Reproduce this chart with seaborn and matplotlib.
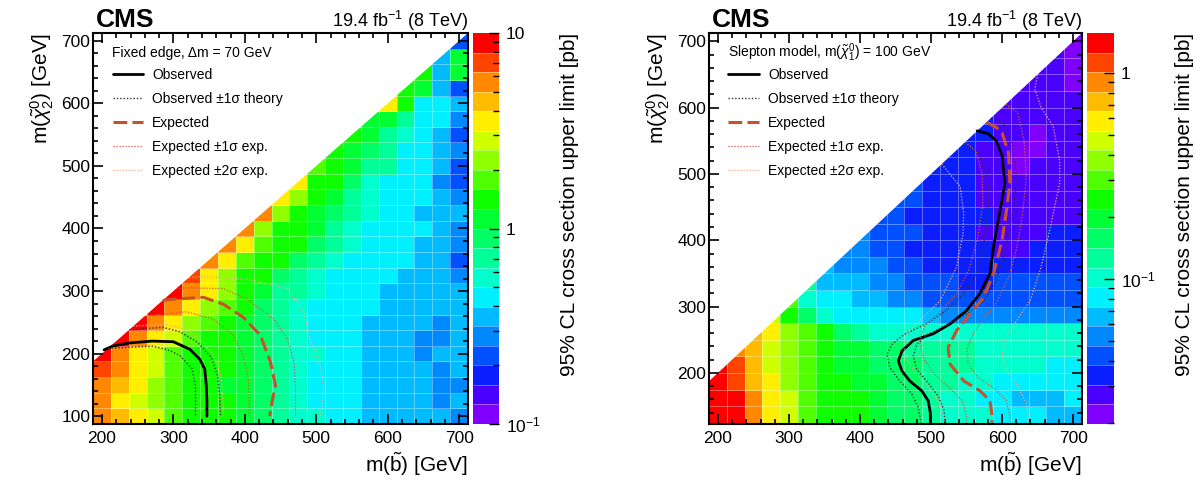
import numpy as np
import matplotlib
matplotlib.use("Agg")
import matplotlib.pyplot as plt
import seaborn as sns
from matplotlib.colors import ListedColormap, LogNorm
from matplotlib.ticker import AutoMinorLocator, LogLocator, NullFormatter

sns.set_style("ticks")
plt.rcParams["font.family"] = ["Liberation Sans", "DejaVu Sans"]
plt.rcParams["mathtext.fontset"] = "custom"
plt.rcParams["mathtext.rm"] = "Liberation Sans"
plt.rcParams["mathtext.it"] = "Liberation Sans:italic"
plt.rcParams["mathtext.bf"] = "Liberation Sans:bold"
plt.rcParams["text.color"] = "black"
plt.rcParams["axes.labelcolor"] = "black"
plt.rcParams["axes.edgecolor"] = "black"
plt.rcParams["xtick.color"] = "black"
plt.rcParams["ytick.color"] = "black"
plt.rcParams["axes.axisbelow"] = False

# ---- scan points ----
m_sbottom = [200, 225, 250, 275, 300, 325, 350, 375, 400, 425, 450,
             475, 500, 525, 550, 575, 600, 625, 650, 675, 700]
m_chi2_fixed = [100, 125, 150, 175, 200, 225, 250, 275, 300, 325, 350, 375, 400,
                425, 450, 475, 500, 525, 550, 575, 600, 625, 650, 675, 700]
m_chi2_slepton = [137.5, 162.5, 187.5, 212.5, 237.5, 262.5, 287.5, 312.5, 337.5,
                  362.5, 387.5, 412.5, 437.5, 462.5, 487.5, 512.5, 537.5, 562.5,
                  587.5, 612.5, 637.5, 662.5, 687.5, 712.5]

# ---- 95% CL upper limits [pb], one row per m(chi2), each row ends at m(b)=700 ----
fixed_edge_limit = [
    [5.6, 4.5, 3.5, 2.8, 1.8, 1.4, 1.4, 1.4, 1.1, 0.89, 0.71, 0.56, 0.56, 0.45, 0.45, 0.35, 0.35, 0.35, 0.35, 0.35, 0.28],
    [5.6, 3.5, 2.8, 2.2, 1.8, 1.4, 1.4, 1.4, 1.1, 0.89, 0.71, 0.56, 0.45, 0.45, 0.45, 0.35, 0.35, 0.35, 0.35, 0.28, 0.35],
    [5.6, 4.5, 3.5, 2.2, 1.8, 1.4, 1.4, 1.1, 1.1, 0.89, 0.71, 0.56, 0.45, 0.45, 0.45, 0.35, 0.35, 0.35, 0.35, 0.28, 0.28],
    [7.1, 5.6, 3.5, 2.8, 1.8, 1.4, 1.4, 1.4, 1.1, 0.89, 0.71, 0.56, 0.45, 0.45, 0.45, 0.35, 0.35, 0.35, 0.35, 0.28, 0.35],
    [8.9, 5.6, 3.5, 2.8, 1.8, 1.4, 1.4, 1.4, 1.1, 0.89, 0.71, 0.56, 0.56, 0.45, 0.45, 0.35, 0.35, 0.35, 0.28, 0.35, 0.35],
    [8.9, 5.6, 3.5, 2.8, 1.8, 1.4, 1.4, 1.1, 0.89, 0.71, 0.56, 0.45, 0.45, 0.45, 0.35, 0.35, 0.35, 0.28, 0.28, 0.35],
    [8.9, 5.6, 3.5, 2.2, 1.8, 1.4, 1.1, 0.89, 0.71, 0.56, 0.45, 0.45, 0.45, 0.35, 0.35, 0.35, 0.35, 0.28, 0.35],
    [8.9, 5.6, 3.5, 2.2, 1.8, 1.4, 0.89, 0.71, 0.56, 0.45, 0.45, 0.45, 0.45, 0.35, 0.35, 0.35, 0.35, 0.35],
    [8.9, 5.6, 3.5, 2.2, 1.4, 1.1, 0.71, 0.71, 0.56, 0.45, 0.45, 0.45, 0.35, 0.35, 0.35, 0.35, 0.35],
    [7.1, 3.5, 2.2, 1.4, 1.4, 0.89, 0.71, 0.56, 0.45, 0.45, 0.45, 0.45, 0.35, 0.35, 0.35, 0.28],
    [5.6, 3.5, 1.8, 1.4, 1.4, 0.89, 0.71, 0.56, 0.45, 0.45, 0.45, 0.45, 0.35, 0.35, 0.22],
    [5.6, 3.5, 1.8, 1.4, 1.4, 0.89, 0.71, 0.56, 0.45, 0.45, 0.45, 0.35, 0.35, 0.28],
    [5.6, 2.2, 1.4, 1.4, 1.1, 0.71, 0.56, 0.45, 0.45, 0.45, 0.45, 0.35, 0.28],
    [5.6, 2.2, 1.4, 1.1, 0.89, 0.71, 0.56, 0.45, 0.45, 0.35, 0.35, 0.35],
    [3.5, 2.2, 1.4, 1.1, 0.71, 0.56, 0.45, 0.45, 0.45, 0.35, 0.28],
    [3.5, 1.4, 1.4, 0.89, 0.56, 0.45, 0.45, 0.45, 0.28, 0.22],
    [1.8, 1.4, 1.1, 0.71, 0.71, 0.45, 0.45, 0.35, 0.22],
    [1.4, 1.1, 0.89, 0.71, 0.45, 0.45, 0.35, 0.28],
    [1.4, 1.1, 0.71, 0.56, 0.45, 0.35, 0.22],
    [1.1, 1.1, 0.71, 0.45, 0.45, 0.28],
    [3.5, 1.4, 0.45, 0.45, 0.35],
    [1.4, 1.1, 0.35, 0.22],
    [1.4, 0.35, 1.1],
    [0.35, 1.1],
    [0.22],
]

slepton_limit = [
    [1.4, 1.4, 0.90, 0.58, 0.47, 0.30, 0.24, 0.24, 0.24, 0.20, 0.16, 0.16, 0.13, 0.10, 0.10, 0.10, 0.082, 0.082, 0.082, 0.066, 0.066],
    [1.4, 1.4, 0.90, 0.58, 0.47, 0.30, 0.24, 0.24, 0.24, 0.20, 0.16, 0.16, 0.13, 0.10, 0.10, 0.082, 0.082, 0.066, 0.066, 0.066, 0.082],
    [1.4, 1.1, 0.73, 0.58, 0.38, 0.30, 0.24, 0.24, 0.20, 0.20, 0.16, 0.16, 0.13, 0.13, 0.10, 0.10, 0.082, 0.082, 0.082, 0.082, 0.082],
    [1.4, 1.1, 0.73, 0.47, 0.38, 0.30, 0.24, 0.20, 0.20, 0.16, 0.16, 0.16, 0.13, 0.13, 0.13, 0.10, 0.10, 0.10, 0.10, 0.082, 0.082],
    [0.90, 0.73, 0.47, 0.38, 0.30, 0.24, 0.20, 0.20, 0.16, 0.16, 0.13, 0.13, 0.13, 0.13, 0.10, 0.10, 0.10, 0.10, 0.10, 0.10],
    [0.73, 0.58, 0.38, 0.30, 0.24, 0.16, 0.13, 0.10, 0.10, 0.10, 0.10, 0.10, 0.10, 0.10, 0.10, 0.10, 0.10, 0.10, 0.10],
    [0.47, 0.24, 0.16, 0.10, 0.082, 0.082, 0.082, 0.082, 0.082, 0.066, 0.053, 0.053, 0.053, 0.053, 0.053, 0.053, 0.053, 0.053],
    [0.30, 0.10, 0.082, 0.082, 0.066, 0.066, 0.053, 0.053, 0.042, 0.042, 0.042, 0.042, 0.042, 0.042, 0.042, 0.042, 0.042],
    [0.13, 0.066, 0.066, 0.066, 0.053, 0.053, 0.042, 0.042, 0.042, 0.034, 0.034, 0.042, 0.042, 0.042, 0.042, 0.042],
    [0.066, 0.053, 0.053, 0.053, 0.042, 0.042, 0.034, 0.034, 0.034, 0.034, 0.034, 0.034, 0.034, 0.034, 0.034],
    [0.053, 0.053, 0.042, 0.042, 0.034, 0.034, 0.034, 0.034, 0.034, 0.027, 0.027, 0.034, 0.034, 0.034],
    [0.053, 0.042, 0.042, 0.042, 0.034, 0.034, 0.034, 0.027, 0.027, 0.027, 0.027, 0.034, 0.034],
    [0.042, 0.042, 0.034, 0.034, 0.034, 0.034, 0.034, 0.027, 0.027, 0.027, 0.027, 0.027],
    [0.042, 0.042, 0.034, 0.034, 0.034, 0.027, 0.027, 0.027, 0.027, 0.027, 0.027],
    [0.042, 0.034, 0.034, 0.034, 0.027, 0.027, 0.027, 0.027, 0.027, 0.027],
    [0.034, 0.034, 0.034, 0.027, 0.027, 0.022, 0.027, 0.027, 0.027],
    [0.034, 0.034, 0.027, 0.027, 0.022, 0.022, 0.027, 0.027],
    [0.034, 0.034, 0.027, 0.027, 0.022, 0.027, 0.027],
    [0.034, 0.027, 0.027, 0.027, 0.027, 0.027],
    [0.027, 0.027, 0.027, 0.027, 0.027],
    [0.027, 0.027, 0.027, 0.022],
    [0.027, 0.027, 0.022],
    [0.027, 0.022],
    [0.022],
]

# ---- exclusion contours (m(b), m(chi2)) ----
fixed_observed = [(203, 206), (215, 212), (238, 217), (270, 220), (300, 219), (323, 207),
                  (337, 191), (344, 175), (346, 150), (347, 125), (347, 100)]
fixed_observed_m1 = [(209, 209), (220, 209), (271, 212), (295, 205), (309, 197), (326, 176),
                     (331, 149), (331, 125), (331, 100)]
fixed_observed_p1 = [(238, 238), (285, 242), (309, 235), (334, 218), (353, 194), (362, 165),
                     (365, 130), (366, 100)]
fixed_expected = [(285, 285), (300, 287), (342, 290), (370, 279), (398, 258), (422, 229),
                  (436, 186), (443, 149), (438, 122), (435, 100)]
fixed_expected_m1 = [(258, 258), (275, 262), (318, 267), (356, 255), (384, 229), (398, 197),
                     (405, 160), (406, 130), (406, 100)]
fixed_expected_p1 = [(304, 304), (320, 305), (370, 304), (403, 287), (441, 255), (460, 223),
                     (469, 186), (471, 149), (471, 100)]
fixed_expected_m2 = [(244, 244), (287, 247), (313, 240), (338, 222), (357, 197), (366, 166),
                     (369, 130), (370, 100)]
fixed_expected_p2 = [(322, 322), (342, 323), (403, 319), (460, 304), (483, 266), (492, 223),
                     (506, 180), (511, 143), (506, 100)]

slepton_observed = [(565, 565), (580, 561), (592, 550), (600, 527), (604, 487), (600, 461),
                    (593, 421), (588, 390), (583, 350), (569, 320), (550, 294), (527, 274),
                    (503, 259), (475, 249), (459, 233), (454, 218), (459, 203), (470, 188),
                    (487, 173), (496, 158), (499, 140), (499, 125)]
slepton_observed_m1 = [(545, 545), (565, 535), (578, 505), (582, 465), (578, 420), (572, 380),
                       (562, 345), (545, 318), (522, 295), (495, 275), (462, 258), (445, 243),
                       (438, 228), (442, 208), (456, 188), (473, 168), (482, 148), (486, 125)]
slepton_observed_p1 = [(585, 585), (603, 575), (614, 545), (620, 500), (617, 455), (610, 415),
                       (602, 375), (592, 340), (575, 310), (552, 290), (522, 272), (495, 258),
                       (480, 243), (475, 225), (480, 205), (496, 185), (510, 165), (518, 145),
                       (520, 125)]
slepton_expected = [(578, 578), (592, 570), (600, 562), (609, 532), (611, 487), (607, 451),
                    (600, 400), (588, 350), (574, 314), (555, 289), (536, 264), (524, 238),
                    (527, 213), (546, 188), (569, 173), (583, 158), (586, 135), (586, 125)]
slepton_expected_m1 = [(548, 548), (563, 535), (572, 500), (573, 455), (566, 405), (553, 355),
                       (535, 318), (512, 292), (492, 272), (484, 250), (488, 225), (503, 200),
                       (525, 178), (544, 158), (550, 135), (550, 125)]
slepton_expected_p1 = [(605, 605), (622, 592), (631, 550), (634, 495), (629, 440), (621, 390),
                       (609, 343), (592, 306), (574, 282), (560, 260), (551, 238), (552, 214),
                       (566, 193), (590, 176), (606, 158), (611, 135), (611, 125)]
slepton_expected_m2 = [(515, 515), (541, 481), (546, 440), (545, 410), (536, 360), (513, 309),
                       (485, 280), (468, 262), (462, 245), (465, 222), (478, 200), (497, 178),
                       (512, 155), (518, 135), (520, 125)]
slepton_expected_p2 = [(650, 650), (646, 628), (655, 600), (672, 572), (681, 520), (681, 486),
                       (668, 420), (655, 360), (640, 310), (620, 278), (605, 252), (600, 228),
                       (606, 205), (622, 180), (634, 155), (637, 135), (637, 125)]

legend_labels = ["Observed", "Observed \u00b11\u03c3 theory", "Expected",
                 "Expected \u00b11\u03c3 exp.", "Expected \u00b12\u03c3 exp."]

# ROOT-like rainbow palette, 20 bands from violet to red
root_palette = ["#8000ff", "#4a00ff", "#0a1eff", "#0050ff", "#0088ff", "#00bbff",
                "#00f0ff", "#00ffcc", "#00ff99", "#00ff66", "#00ff33", "#10ff00",
                "#50ff00", "#90ff00", "#d0ff00", "#ffee00", "#ffbb00", "#ff8800",
                "#ff4400", "#ff0000"]
root_cmap = ListedColormap(root_palette)

W, H = 1197, 498
fig = plt.figure(figsize=(W / 100, H / 100), dpi=100)


def frac(x0, x1):
    return [x0 / W, 74 / H, (x1 - x0) / W, 391 / H]


def draw_panel(ax, cax, chi2_rows, limits, zrange, ylim, yticks, curves, header,
               cbar_ticks, cbar_labels):
    x_edges = np.append(np.array(m_sbottom) - 12.5, m_sbottom[-1] + 12.5)
    y_edges = np.append(np.array(chi2_rows) - 12.5, chi2_rows[-1] + 12.5)
    grid = np.full((len(chi2_rows), len(m_sbottom)), np.nan)
    for i, row in enumerate(limits):
        grid[i, len(m_sbottom) - len(row):] = row
    mesh = ax.pcolormesh(x_edges, y_edges, np.ma.masked_invalid(grid), cmap=root_cmap,
                         norm=LogNorm(*zrange), edgecolors=(1, 1, 1, 0.35),
                         linewidth=0.5, zorder=1)
    # kinematically forbidden region
    ax.fill([187.5, 712.5, 187.5], [187.5, 712.5, 712.5], color="white", lw=0, zorder=1.5)

    styles = [
        dict(color="black", linewidth=2.0, linestyle="-"),
        dict(color="#333333", linewidth=1.0, linestyle=(0, (1, 1.4))),
        dict(color="#c9512a", linewidth=2.2, linestyle=(0, (4.5, 1.7))),
        dict(color="#d8583a", linewidth=0.9, linestyle=(0, (1, 1.4))),
        dict(color="#f2a88c", linewidth=0.9, linestyle=(0, (1, 1.4))),
    ]
    handles = []
    for k, group in enumerate(curves):
        for pts in group:
            sns.lineplot(x=[p[0] for p in pts], y=[p[1] for p in pts], ax=ax, sort=False,
                         estimator=None, legend=False, zorder=3, **styles[k])
        handles.append(ax.lines[-1])

    ax.set_axisbelow(False)
    ax.set_xlim(187.5, 712.5)
    ax.set_ylim(*ylim)
    ax.set_xticks([200, 300, 400, 500, 600, 700])
    ax.set_yticks(yticks)
    ax.xaxis.set_minor_locator(AutoMinorLocator(5))
    ax.yaxis.set_minor_locator(AutoMinorLocator(5))
    ax.tick_params(which="both", direction="in", top=True, right=True, width=1.2,
                   labelsize=12.5)
    ax.tick_params(which="major", length=7)
    ax.tick_params(which="minor", length=3.5)
    ax.tick_params(axis="x", pad=5)
    ax.tick_params(axis="y", pad=2)
    for s in ax.spines.values():
        s.set_linewidth(1.5)
        s.set_zorder(4)

    ax.set_xlabel(r"m($\tilde{\mathrm{b}}$) [GeV]", loc="right", fontsize=15, labelpad=3)
    ax.set_ylabel(r"m($\tilde{\chi}^{0}_{2}$) [GeV]", loc="top", fontsize=15, labelpad=4)

    ax.text(0.008, 1.015, "CMS", transform=ax.transAxes, fontsize=19,
            fontweight="bold", ha="left", va="baseline")
    ax.text(1.0, 1.015, r"19.4 fb$^{-1}$ (8 TeV)", transform=ax.transAxes,
            fontsize=13, ha="right", va="baseline")
    ax.text(0.05, 0.949, header, transform=ax.transAxes, fontsize=10, ha="left",
            va="center", zorder=6)
    ax.legend(handles, legend_labels, loc="upper left", bbox_to_anchor=(0.052, 0.91),
              frameon=False, fontsize=10, handlelength=2.2, handletextpad=0.65,
              labelspacing=0.72, borderpad=0, borderaxespad=0)

    cb = fig.colorbar(mesh, cax=cax, drawedges=True)
    cb.outline.set_visible(False)
    cb.dividers.set_color((1, 1, 1, 0.5))
    cb.dividers.set_linewidth(0.5)
    cax.set_axisbelow(False)
    cb.set_ticks(cbar_ticks)
    cb.set_ticklabels(cbar_labels)
    cax.yaxis.set_minor_locator(LogLocator(subs=np.arange(2, 10)))
    cax.yaxis.set_minor_formatter(NullFormatter())
    cax.tick_params(which="both", direction="in", right=True, left=False,
                    labelsize=12.5, width=1.0, pad=5, color="black")
    cax.tick_params(which="major", length=7)
    cax.tick_params(which="minor", length=4)
    cb.set_label("95% CL cross section upper limit [pb]", fontsize=15, loc="top",
                 labelpad=14)


ax_l = fig.add_axes(frac(93, 468))
cax_l = fig.add_axes(frac(473, 499))
ax_r = fig.add_axes(frac(709, 1082))
cax_r = fig.add_axes(frac(1087, 1114))

draw_panel(ax_l, cax_l, m_chi2_fixed, fixed_edge_limit, (0.1, 10), (87.5, 712.5),
           [100, 200, 300, 400, 500, 600, 700],
           [[fixed_observed], [fixed_observed_m1, fixed_observed_p1], [fixed_expected],
            [fixed_expected_m1, fixed_expected_p1], [fixed_expected_m2, fixed_expected_p2]],
           "Fixed edge, \u0394m = 70 GeV", [0.1, 1, 10], [r"$10^{-1}$", "1", "10"])

draw_panel(ax_r, cax_r, m_chi2_slepton, slepton_limit, (0.0197, 1.56), (123, 712.5),
           [200, 300, 400, 500, 600, 700],
           [[slepton_observed], [slepton_observed_m1, slepton_observed_p1], [slepton_expected],
            [slepton_expected_m1, slepton_expected_p1],
            [slepton_expected_m2, slepton_expected_p2]],
           r"Slepton model, m($\tilde{\chi}^{0}_{1}$) = 100 GeV", [0.1, 1],
           [r"$10^{-1}$", "1"])

fig.savefig("out.png", dpi=100)
